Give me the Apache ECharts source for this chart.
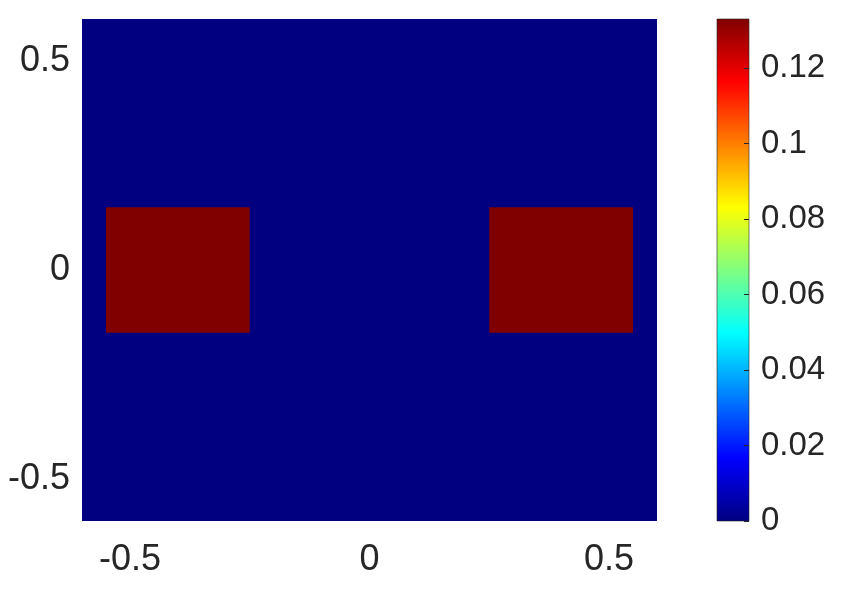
<!DOCTYPE html>
<html>
<head>
<meta charset="utf-8">
<script src="https://cdn.jsdelivr.net/npm/echarts@6/dist/echarts.min.js"></script>
<style>html,body{margin:0;padding:0;background:#fff}#c{width:842px;height:591px}</style>
</head>
<body>
<div id="c"></div>
<script>
// Data
const cellXStart = [-0.6, -0.55, 0.25];
const cellXEnd   = [0.6, -0.25, 0.55];
const cellYStart = [-0.6, -0.15, -0.15];
const cellYEnd   = [0.6, 0.15, 0.15];
const cellValue  = [0, 0.133, 0.133];
const xTicks = [-0.5, 0, 0.5];
const yTicks = [-0.5, 0, 0.5];
const colorbarTicks = [0, 0.02, 0.04, 0.06, 0.08, 0.1, 0.12];
const colorbarTickLabels = ['0', '0.02', '0.04', '0.06', '0.08', '0.1', '0.12'];
const axisMin = -0.6, axisMax = 0.6;
const cMin = 0, cMax = 0.133;

const jet = ['#000080', '#0000ff', '#0080ff', '#00ffff', '#80ff80', '#ffff00', '#ff8000', '#ff0000', '#800000'];
const font = '"Liberation Sans", Arial, Helvetica, sans-serif';
const txt = '#262626';

const cells = cellValue.map((v, i) => [cellXStart[i], cellXEnd[i], cellYStart[i], cellYEnd[i], v]);

const chart = echarts.init(document.getElementById('c'));
chart.setOption({
  backgroundColor: '#fff',
  animation: false,
  grid: [
    { left: 82, top: 19, width: 575, height: 502 },
    { left: 717, top: 19, width: 32, height: 502 }
  ],
  xAxis: [
    { type: 'value', gridIndex: 0, min: axisMin, max: axisMax,
      axisLine: { show: false, onZero: false }, splitLine: { show: false },
      axisTick: { show: false },
      axisLabel: { customValues: xTicks, fontSize: 36, color: txt, fontFamily: font, margin: 21,
        formatter: v => String(v) } },
    { type: 'value', gridIndex: 1, min: 0, max: 1, show: false }
  ],
  yAxis: [
    { type: 'value', gridIndex: 0, min: axisMin, max: axisMax,
      axisLine: { show: false, onZero: false }, splitLine: { show: false },
      axisTick: { show: false },
      axisLabel: { customValues: yTicks, fontSize: 36, color: txt, fontFamily: font, margin: 12,
        formatter: v => String(v) } },
    { type: 'value', gridIndex: 1, min: cMin, max: cMax, position: 'right', z: 10,
      axisLine: { show: false, onZero: false }, splitLine: { show: false },
      axisTick: { show: true, customValues: colorbarTicks, inside: true, length: 5, lineStyle: { color: txt, width: 1 } },
      axisLabel: { customValues: colorbarTicks, fontSize: 33, color: txt, fontFamily: font, margin: 12,
        formatter: v => { const i = colorbarTicks.findIndex(t => Math.abs(t - v) < 1e-9); return i >= 0 ? colorbarTickLabels[i] : ''; } } }
  ],
  visualMap: {
    show: false, type: 'continuous', seriesIndex: 0, dimension: 4,
    min: cMin, max: cMax, inRange: { color: jet }
  },
  series: [
    {
      type: 'custom', xAxisIndex: 0, yAxisIndex: 0,
      encode: { x: [0, 1], y: [2, 3] },
      data: cells,
      renderItem: function (params, api) {
        const p0 = api.coord([api.value(0), api.value(3)]);
        const p1 = api.coord([api.value(1), api.value(2)]);
        return { type: 'rect', shape: { x: p0[0], y: p0[1], width: p1[0] - p0[0], height: p1[1] - p0[1] },
          style: { fill: api.visual('color') } };
      }
    },
    {
      type: 'custom', xAxisIndex: 1, yAxisIndex: 1,
      encode: { x: [0, 1], y: [2, 3] },
      data: [[0, 1, cMin, cMax]],
      z: 1,
      renderItem: function (params, api) {
        const p0 = api.coord([api.value(0), api.value(3)]);
        const p1 = api.coord([api.value(1), api.value(2)]);
        const stops = jet.map((c, i) => ({ offset: i / (jet.length - 1), color: c }));
        return { type: 'rect', shape: { x: p0[0], y: p0[1], width: p1[0] - p0[0], height: p1[1] - p0[1] },
          style: { fill: new echarts.graphic.LinearGradient(0, 1, 0, 0, stops), stroke: '#262626', lineWidth: 0.6 } };
      }
    }
  ]
});
</script>
</body>
</html>
